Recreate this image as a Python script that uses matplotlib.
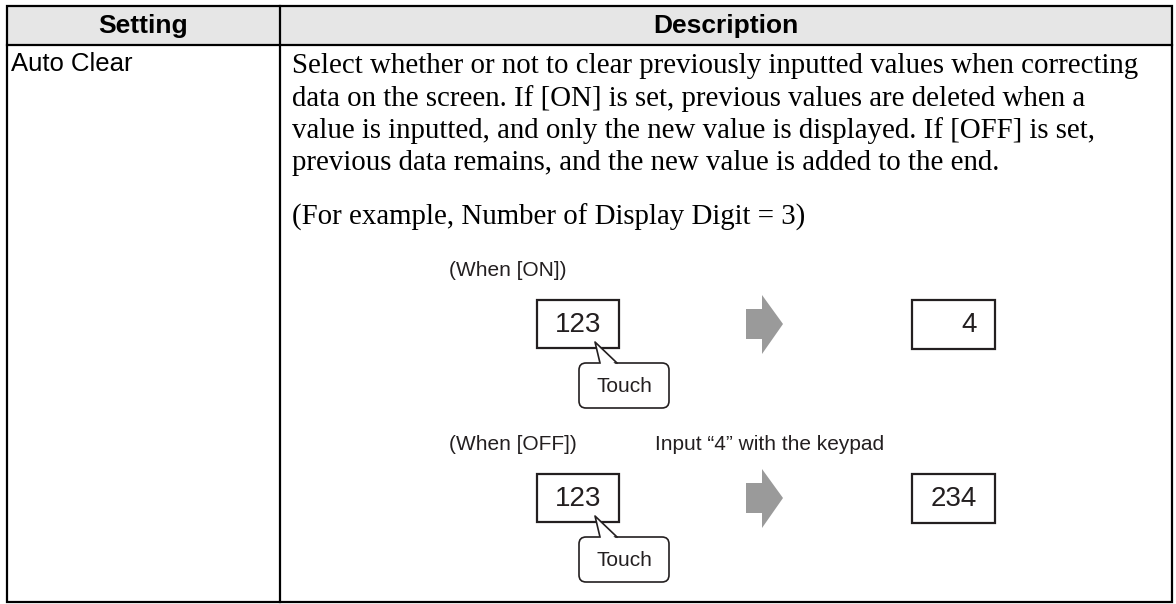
import matplotlib.pyplot as plt
from matplotlib.patches import Rectangle, FancyBboxPatch, Polygon

# contenu du tableau
entetes = ["Setting", "Description"]
reglage = "Auto Clear"
description = [
    "Select whether or not to clear previously inputted values when correcting",
    "data on the screen. If [ON] is set, previous values are deleted when a",
    "value is inputted, and only the new value is displayed. If [OFF] is set,",
    "previous data remains, and the new value is added to the end.",
]
exemple = "(For example, Number of Display Digit = 3)"
cas = ["(When [ON])", "(When [OFF])"]
avant = ["123", "123"]
apres = ["4", "234"]
touche = "Touch"
consigne = "Input \u201c4\u201d with the keypad"

SANS = "Liberation Sans"
SERIF = "Liberation Serif"
ENCRE = "#231f20"

fig = plt.figure(figsize=(11.76, 6.04), dpi=100)
ax = fig.add_axes([0, 0, 1, 1])
ax.set_xlim(0, 1176)
ax.set_ylim(604, 0)
ax.axis("off")

# cadre du tableau
gauche, droite, haut, bas = 7, 1172, 6, 602
sep_col, sep_ligne = 280, 45
ax.add_patch(Rectangle((gauche, haut), droite - gauche, sep_ligne - haut,
                       fc="#e6e6e6", ec="none"))
ax.add_patch(Rectangle((gauche, haut), droite - gauche, bas - haut,
                       fill=False, ec="black", lw=1.6))
ax.plot([gauche, droite], [sep_ligne, sep_ligne], color="black", lw=1.6)
ax.plot([sep_col, sep_col], [haut, bas], color="black", lw=1.6)

# entetes
ax.text((gauche + sep_col) / 2, 26, entetes[0], family=SANS, weight="bold",
        fontsize=19, ha="center", va="center")
ax.text((sep_col + droite) / 2, 26, entetes[1], family=SANS, weight="bold",
        fontsize=19, ha="center", va="center")

# premiere colonne
ax.text(11, 71, reglage, family=SANS, fontsize=18.5, ha="left", va="baseline")

# texte de description
for i, ligne in enumerate(description):
    ax.text(292, 73 + i * 32.5, ligne, family=SERIF, fontsize=20.8,
            ha="left", va="baseline")
ax.text(292, 225, exemple, family=SERIF, fontsize=20.8, ha="left", va="baseline")

# schemas ON / OFF
for i, y0 in enumerate([300, 474]):
    ax.text(449, y0 - 30, cas[i], family=SANS, fontsize=15, color=ENCRE,
            ha="left", va="center")
    if i == 1:
        ax.text(655, y0 - 30, consigne, family=SANS, fontsize=15, color=ENCRE,
                ha="left", va="center")

    # case de depart
    ax.add_patch(Rectangle((537, y0), 82, 48, fc="white", ec=ENCRE, lw=1.6))
    ax.text(601, y0 + 25, avant[i], family=SANS, fontsize=20, color=ENCRE,
            ha="right", va="center")

    # bulle "Touch"
    ax.add_patch(FancyBboxPatch((579, y0 + 63), 90, 45,
                                boxstyle="round,pad=0,rounding_size=7",
                                fc="white", ec=ENCRE, lw=1.2))
    ax.add_patch(Polygon([(600, y0 + 66), (595, y0 + 42), (617, y0 + 66)],
                         closed=True, fc="white", ec="none"))
    ax.plot([600, 595, 617], [y0 + 63, y0 + 42, y0 + 63], color=ENCRE, lw=1.2)
    ax.text(624, y0 + 86, touche, family=SANS, fontsize=15, color=ENCRE,
            ha="center", va="center")

    # fleche grise
    ax.add_patch(Polygon([(746, y0 + 9), (762, y0 + 9), (762, y0 - 5),
                          (783, y0 + 24), (762, y0 + 54), (762, y0 + 39),
                          (746, y0 + 39)], closed=True, fc="#9a9a9a", ec="none"))

    # case resultat
    ax.add_patch(Rectangle((912, y0), 83, 49, fc="white", ec=ENCRE, lw=1.6))
    ax.text(977, y0 + 25, apres[i], family=SANS, fontsize=20, color=ENCRE,
            ha="right", va="center")

fig.savefig("out.png", dpi=100)
